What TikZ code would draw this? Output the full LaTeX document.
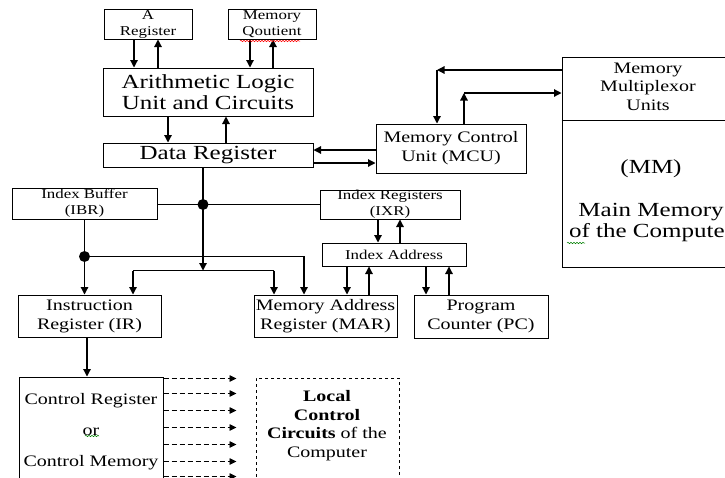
\documentclass[tikz,border=0pt]{standalone}
\usepackage{fontspec}
\setmainfont{Liberation Serif}[FakeStretch=1.25]
\usetikzlibrary{arrows.meta,calc,decorations.pathmorphing}
\begin{document}
\begin{tikzpicture}[x=1pt,y=-1pt,
  box/.style={draw, line width=1pt, inner sep=0pt, align=center},
  big/.style={font=\fontsize{20}{21}\selectfont},
  mid/.style={font=\fontsize{16}{19}\selectfont},
  sml/.style={font=\fontsize{13.5}{16}\selectfont},
  arr/.style={line width=1.2pt, -{Triangle[length=7.5pt,width=7.5pt]}},
  bus/.style={line width=1.2pt},
  darr/.style={line width=0.9pt, dash pattern=on 5pt off 3pt, -{Triangle[length=7pt,width=6.5pt]}},
  spell/.style={decorate, decoration={snake, amplitude=0.7pt, segment length=3pt}, line width=0.5pt}
]
\useasboundingbox (0,0) rectangle (725,477);
\clip (0,0) rectangle (725,477);
\fill[white] (0,0) rectangle (725,477);

% ---------- boxes ----------
\node[box,sml,minimum width=88pt,minimum height=30pt] (areg) at (148,24) {A\\Register};
\node[box,sml,minimum width=88pt,minimum height=30pt] (mq) at (272,24) {Memory\\Qoutient};
\node[box,big,minimum width=210pt,minimum height=48pt] (alu) at (208,92) {Arithmetic Logic\\Unit and Circuits};
\node[box,big,minimum width=210pt,minimum height=24pt] (dr) at (208,155) {Data Register};
\node[box,mid,minimum width=150pt,minimum height=49pt] (mcu) at (451,148.5) {Memory Control\\Unit (MCU)};
\node[box,minimum width=178pt,minimum height=210pt] (mm) at (651,162) {};
\node[box,sml,minimum width=145pt,minimum height=31pt] (ibr) at (84.5,203.5) {Index Buffer\\(IBR)};
\node[box,sml,minimum width=140pt,minimum height=29pt] (ixr) at (390,204.5) {Index Registers\\(IXR)};
\node[box,sml,minimum width=144pt,minimum height=23pt] (ia) at (394,254.5) {Index Address};
\node[box,mid,minimum width=143pt,minimum height=42pt] (ir) at (89.5,316) {Instruction\\Register (IR)};
\node[box,mid,minimum width=143pt,minimum height=42pt] (mar) at (325.5,316) {Memory Address\\Register (MAR)};
\node[box,mid,minimum width=134pt,minimum height=43pt] (pc) at (481,316.5) {Program\\Counter (PC)};
\node[box,mid,minimum width=144pt,minimum height=110pt] (cr) at (91,432) {Control Register\\[12pt]or\\[12pt]Control Memory};
\node[box,dashed,dash pattern=on 3pt off 3pt,minimum width=143pt,minimum height=110pt] (lcc) at (327.5,433) {};

% ---------- texts of the main memory and local control ----------
\node[align=center,font=\fontsize{16}{18.5}\selectfont] (mmhead) at (648,86.5) {Memory\\Multiplexor\\Units};
\node[big] (mmabbr) at (651,169) {(MM)};
\node[big,align=center] (mmname) at (651,223) {Main Memory\\of the Computer};
\node[align=center,font=\fontsize{16}{18.5}\selectfont] (lcctext) at (327,425.5)
  {\textbf{Local}\\\textbf{Control}\\\textbf{Circuits} of the\\Computer};

\coordinate (mmdiv) at ($(mm.north west)+(0,64)$);
\draw[line width=1pt] (mmdiv) -- (mmdiv -| mm.east);

% ---------- ALU and its registers ----------
\draw[arr] ([xshift=-14pt]areg.south) -- ([xshift=-14pt]areg.south |- alu.north);
\draw[arr] ([xshift=10pt]areg.south |- alu.north) -- ([xshift=10pt]areg.south);
\draw[arr] ([xshift=-22pt]mq.south) -- ([xshift=-22pt]mq.south |- alu.north);
\draw[arr] ([xshift=1pt]mq.south |- alu.north) -- ([xshift=1pt]mq.south);
\draw[arr] ([xshift=-40pt]alu.south) -- ([xshift=-40pt]alu.south |- dr.north);
\draw[arr] ([xshift=18pt]alu.south |- dr.north) -- ([xshift=18pt]alu.south);

% ---------- data register and memory control ----------
\draw[arr] ([yshift=5pt]dr.east -| mcu.west) -- ([yshift=5pt]dr.east);
\draw[arr] ([yshift=-8pt]dr.east) -- ([yshift=-8pt]dr.east -| mcu.west);

\coordinate (mcuA) at ($(mcu.north)+(-14,0)$);
\coordinate (mmA) at ($(mm.west)+(0,-92)$);
\coordinate (mcuB) at ($(mcu.north)+(13,0)$);
\coordinate (mmB) at ($(mm.west)+(0,-69)$);
\draw[arr] (mmA) -- (mmA -| mcuA);
\draw[arr] (mmA -| mcuA) -- (mcuA);
\draw[arr] (mcuB) -- (mcuB |- mmB);
\draw[arr] (mcuB |- mmB) -- (mmB);

% ---------- data bus ----------
\coordinate (drB) at ($(dr.south)+(-5,0)$);
\coordinate (j1) at (drB |- ixr.west);
\coordinate (split) at ($(drB)+(0,103)$);
\coordinate (irA) at ($(ir.north)+(43.5,0)$);
\coordinate (marA) at ($(mar.north)+(-51.5,0)$);
\draw[bus] (j1 -| ibr.east) -- (j1 -| ixr.west);
\fill (j1) circle (5.5pt);
\draw[arr] (drB) -- (split);
\draw[bus] (irA |- split) -- (marA |- split);
\draw[arr] (irA |- split) -- (irA);
\draw[arr] (marA |- split) -- (marA);

% ---------- index buffer ----------
\coordinate (j2) at ($(ibr.south)+(0,37)$);
\coordinate (marB) at ($(mar.north)+(-21.5,0)$);
\draw[arr] (ibr.south) -- (ibr.south |- ir.north);
\draw[arr] (j2) -- (j2 -| marB) -- (marB);
\fill (j2) circle (5.5pt);

% ---------- index registers and address ----------
\draw[arr] ([xshift=-12pt]ixr.south) -- ([xshift=-12pt]ixr.south |- ia.north);
\draw[arr] ([xshift=10pt]ixr.south |- ia.north) -- ([xshift=10pt]ixr.south);
\draw[arr] ([xshift=-47pt]ia.south) -- ([xshift=-47pt]ia.south |- mar.north);
\draw[arr] ([xshift=-25pt]ia.south |- mar.north) -- ([xshift=-25pt]ia.south);
\draw[arr] ([xshift=32pt]ia.south) -- ([xshift=32pt]ia.south |- pc.north);
\draw[arr] ([xshift=55pt]ia.south |- pc.north) -- ([xshift=55pt]ia.south);

% ---------- control ----------
\draw[arr] ([xshift=-2.5pt]ir.south) -- ([xshift=-2.5pt]ir.south |- cr.north);
\foreach \d in {2,17,34,51,68,85,100}
  \draw[darr] ($(cr.north east)+(0,\d)$) -- ($(lcc.north west)+(-19,\d-1)$);

% ---------- spelling marks ----------
\draw[spell,red] (240,41) -- (300,41);
\draw[spell,green!50!black] (85,436) -- (99,436);
\draw[spell,green!50!black] (567,243) -- (585,243);
\end{tikzpicture}
\end{document}
